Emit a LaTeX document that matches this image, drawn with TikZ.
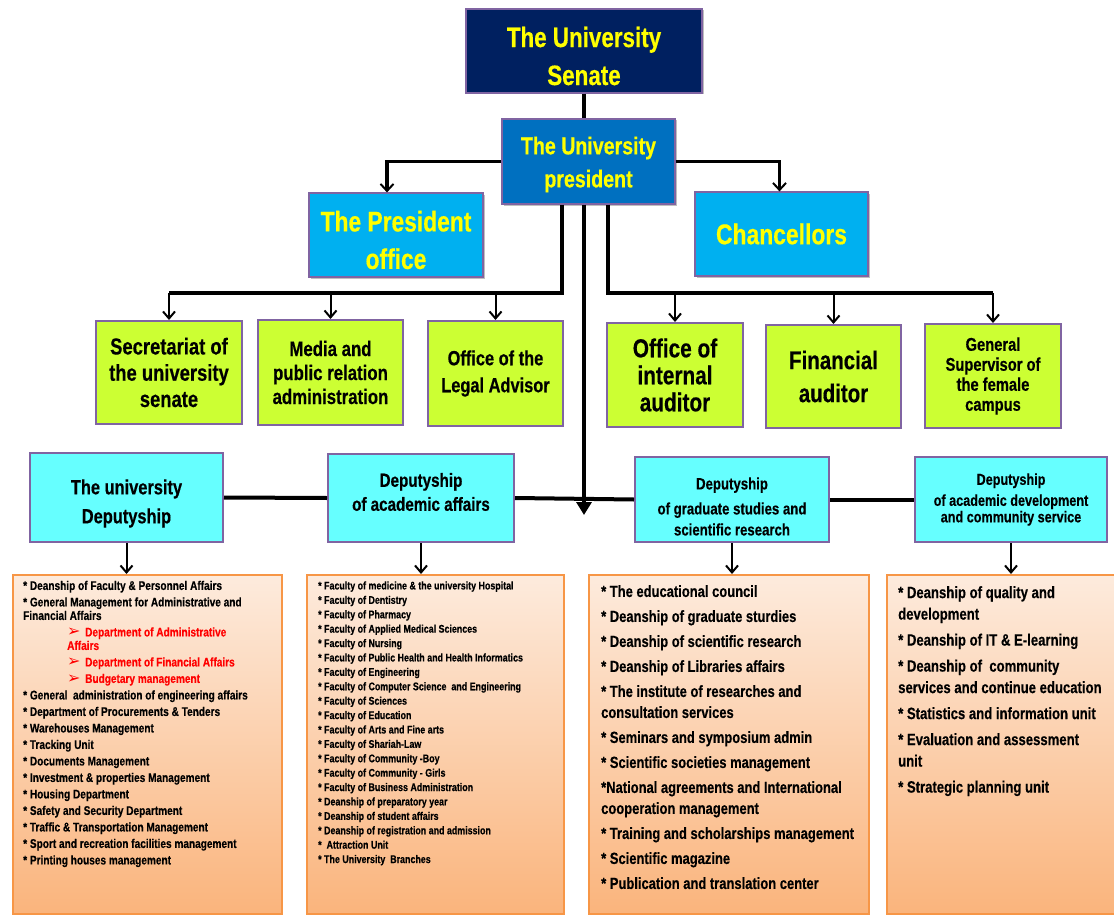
\documentclass[tikz,border=0pt]{standalone}
\usepackage{fontspec}
\setmainfont{Liberation Sans}[FakeStretch=0.8, BoldFeatures={FakeBold=0.4}]
\newfontfamily\dingfont{DejaVu Sans}
\usetikzlibrary{arrows.meta,shadows}

\definecolor{senateblue}{HTML}{002060}
\definecolor{presblue}{HTML}{0070C0}
\definecolor{skyblue}{HTML}{00B0F0}
\definecolor{limegreen}{HTML}{CCFF33}
\definecolor{aqua}{HTML}{66FFFF}
\definecolor{framepurple}{HTML}{8064A2}
\definecolor{peachtop}{HTML}{FDEBDD}
\definecolor{peachbot}{HTML}{FAB47C}
\definecolor{peachline}{HTML}{F79646}
\definecolor{titleyellow}{HTML}{FFFF00}
\definecolor{redtext}{HTML}{FF0000}

\newcommand\fz[2]{\fontsize{#1}{#2}\selectfont}
\newcommand\redarrow{\makebox[18pt][l]{\raisebox{-0.5pt}{\dingfont\fontsize{16}{16}\selectfont ➢}}}

\begin{document}
\begin{tikzpicture}[x=1pt, y=-1pt,
  fsz/.style 2 args={font=\bfseries\fontsize{#1}{#2}\selectfont},
  box/.style={draw=framepurple, inner sep=0pt, align=center},
  boxlabel/.style={inner sep=0pt, align=center},
  topbox/.style={box, line width=1.2pt, text=titleyellow,
    drop shadow={shadow xshift=1.5pt, shadow yshift=-1.5pt, opacity=0.25, fill=black}},
  unitbox/.style={box, fill=limegreen, line width=2pt},
  deputybox/.style={box, fill=aqua, line width=2pt},
  listbox/.style={draw=peachline, line width=1.5pt, top color=peachtop, bottom color=peachbot,
    inner sep=0pt, anchor=north west},
  listtext/.style={inner sep=0pt, align=left, anchor=north west},
  busline/.style={line width=3.2pt},
  sidearrow/.style={line width=3.2pt, -{Straight Barb[length=7pt, width=13pt, line width=2pt]}},
  droparrow/.style={line width=2pt, -{Straight Barb[length=7pt, width=12pt]}},
  bigarrow/.style={line width=4pt, -{Triangle[length=13pt, width=15pt]}},
  deputyline/.style={line width=4pt}
]
\path[use as bounding box, fill=white] (0,0) rectangle (1114,915);

% ---- top of the hierarchy
\node[topbox, fill=senateblue, minimum width=236, minimum height=84,
  label={[boxlabel, text=titleyellow, fsz={28}{38}, yshift=-5pt]center:{The University\\Senate}}]
  (senate) at (584,51) {};
\node[topbox, fill=presblue, minimum width=173, minimum height=85,
  label={[boxlabel, text=titleyellow, fsz={24.5}{33}, yshift=-3pt]center:{The University\\president}}]
  (pres) at (588.5,161.5) {};
\node[topbox, fill=skyblue, minimum width=174, minimum height=84,
  label={[boxlabel, text=titleyellow, fsz={28.5}{37.5}, yshift=-5pt]center:{The President\\office}}]
  (office) at (396,235) {};
\node[topbox, fill=skyblue, minimum width=173, minimum height=84, fsz={28.6}{34}]
  (chanc) at (781.5,234) {Chancellors};

% ---- units attached to the president
\node[unitbox, minimum width=146, minimum height=103, fsz={23}{26.3}]
  (sec) at (169,372.5) {Secretariat of\\the university\\senate};
\node[unitbox, minimum width=145, minimum height=105, fsz={21}{24}]
  (media) at (330.5,372.5) {Media and\\public relation\\administration};
\node[unitbox, minimum width=135, minimum height=105, fsz={20.5}{27}]
  (legal) at (495.5,373.5) {Office of the\\Legal Advisor};
\node[unitbox, minimum width=136, minimum height=104, fsz={26}{27}]
  (intaud) at (675,375) {Office of\\internal\\auditor};
\node[unitbox, minimum width=135, minimum height=103, fsz={25.6}{33}]
  (finaud) at (833.5,376.5) {Financial\\auditor};
\node[unitbox, minimum width=136, minimum height=104, fsz={18.4}{20}]
  (femsup) at (993,376) {General\\Supervisor of\\the female\\campus};

% ---- deputyships
\node[deputybox, minimum width=193, minimum height=89,
  label={[boxlabel, fsz={20.5}{29}, yshift=-6pt]center:{The university\\Deputyship}}]
  (udep) at (126.5,497.5) {};
\node[deputybox, minimum width=186, minimum height=88,
  label={[boxlabel, fsz={19}{24}, yshift=6pt]center:{Deputyship\\of academic affairs}}]
  (acad) at (421,498) {};
\node[deputybox, minimum width=194, minimum height=85,
  label={[boxlabel, fsz={16.5}{21}, yshift=-7pt]center:{Deputyship\\[4pt]of graduate studies and\\scientific research}}]
  (grad) at (732,499.5) {};
\node[deputybox, minimum width=192, minimum height=85, fsz={15.8}{16.5}]
  (dev) at (1011,499.5) {Deputyship\\[4.5pt]of academic development\\and community service};

% ---- lists of departments
\node[listbox, minimum width=269, minimum height=339] (list1) at (12,574) {};
\node[listbox, minimum width=257, minimum height=339] (list2) at (306,574) {};
\node[listbox, minimum width=280, minimum height=339] (list3) at (588,574) {};
\node[listbox, minimum width=232, minimum height=339] (list4) at (886,574) {};

\node[listtext, fsz={12.6}{13.5}] (items1) at (23,580.6) {%
* Deanship of Faculty \& Personnel Affairs\\[3pt]
* General Management for Administrative and\\
Financial Affairs\\[3pt]
\hspace*{44pt}\textcolor{redtext}{\redarrow Department of Administrative}\\
\hspace*{44pt}\textcolor{redtext}{Affairs}\\[3pt]
\hspace*{44pt}\textcolor{redtext}{\redarrow Department of Financial Affairs}\\[3pt]
\hspace*{44pt}\textcolor{redtext}{\redarrow Budgetary management}\\[3pt]
* General~ administration of engineering affairs\\[3pt]
* Department of Procurements \& Tenders\\[3pt]
* Warehouses Management\\[3pt]
* Tracking Unit\\[3pt]
* Documents Management\\[3pt]
* Investment \& properties Management\\[3pt]
* Housing Department\\[3pt]
* Safety and Security Department\\[3pt]
* Traffic \& Transportation Management\\[3pt]
* Sport and recreation facilities management\\[3pt]
* Printing houses management};

\node[listtext, fsz={11.1}{14.4}] (items2) at (318,581.2) {%
* Faculty of medicine \& the university Hospital\\
* Faculty of Dentistry\\
* Faculty of Pharmacy\\
* Faculty of Applied Medical Sciences\\
* Faculty of Nursing\\
* Faculty of Public Health and Health Informatics\\
* Faculty of Engineering\\
* Faculty of Computer Science~ and Engineering\\
* Faculty of Sciences\\
* Faculty of Education\\
* Faculty of Arts and Fine arts\\
* Faculty of Shariah-Law\\
* Faculty of Community -Boy\\
* Faculty of Community - Girls\\
* Faculty of Business Administration\\
* Deanship of preparatory year\\
* Deanship of student affairs\\
* Deanship of registration and admission\\
*~ Attraction Unit\\
* The University~ Branches};

\node[listtext, fsz={16.2}{21}] (items3) at (601,585) {%
* The educational council\\[4pt]
* Deanship of graduate sturdies\\[4pt]
* Deanship of scientific research\\[4pt]
* Deanship of Libraries affairs\\[4pt]
* The institute of researches and\\
consultation services\\[4pt]
* Seminars and symposium admin\\[4pt]
* Scientific societies management\\[4pt]
*National agreements and International\\
cooperation management\\[4pt]
* Training and scholarships management\\[4pt]
* Scientific magazine\\[4pt]
* Publication and translation center};

\node[listtext, fsz={16.4}{21.5}] (items4) at (898,586) {%
* Deanship of quality and\\
development\\[4.5pt]
* Deanship of IT \& E-learning\\[4.5pt]
* Deanship of~ community\\
services and continue education\\[4.5pt]
* Statistics and information unit\\[4.5pt]
* Evaluation and assessment\\
unit\\[4.5pt]
* Strategic planning unit};

% ---- connectors
\coordinate (lbend) at (562,293);
\coordinate (rbend) at (608,293);
\coordinate (midtip) at (584,515);

\draw[busline] (senate.south) -- (senate.south |- pres.north);
\draw[sidearrow] (pres.west) -| ([xshift=-9pt]office.north);
\draw[sidearrow] (pres.east) -| ([xshift=-2pt]chanc.north);

\draw[busline] (pres.south -| lbend) -- (lbend) -- (lbend -| sec.north);
\draw[busline] (pres.south -| rbend) -- (rbend) -- (rbend -| femsup.north);
\foreach \n in {sec,media,legal}
  \draw[droparrow] (lbend -| \n.north) -- (\n.north);
\foreach \n in {intaud,finaud,femsup}
  \draw[droparrow] (rbend -| \n.north) -- (\n.north);

\draw[bigarrow] (senate.south |- pres.south) -- (midtip);

\draw[deputyline] (udep.east) -- (acad.west);
\draw[deputyline] (acad.east) -- (grad.west);
\draw[deputyline] (grad.east) -- (dev.west);

\draw[droparrow] (udep.south) -- (udep.south |- list1.north);
\draw[droparrow] (acad.south) -- (acad.south |- list2.north);
\draw[droparrow] (grad.south) -- (grad.south |- list3.north);
\draw[droparrow] (dev.south) -- (dev.south |- list4.north);
\end{tikzpicture}
\end{document}
